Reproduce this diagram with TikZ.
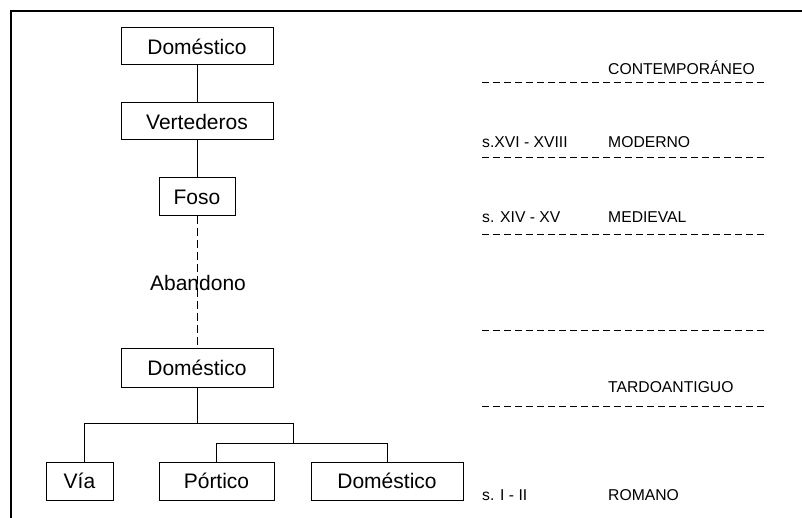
\documentclass[tikz,border=0pt]{standalone}
\usepackage{fontspec}
\setmainfont{Liberation Sans}
\begin{document}
\begin{tikzpicture}[x=1pt,y=-1pt,
  box/.style={draw=black, line width=1pt, inner sep=0pt, font=\fontsize{21}{24}\selectfont},
  lbl/.style={inner sep=0pt, anchor=west, font=\fontsize{15.7}{18}\selectfont},
  conn/.style={line width=1pt},
  sep/.style={line width=1pt, dash pattern=on 7pt off 4pt},
  vdash/.style={line width=1pt, dash pattern=on 8pt off 4pt}]
\useasboundingbox (0,0) rectangle (802,518);
% frame
\draw[line width=1.3pt] (11,518) -- (11,11) -- (802,11);
% boxes
\node[box, minimum width=152pt, minimum height=37pt] (d1) at (197,46.5) {Doméstico};
\node[box, minimum width=152pt, minimum height=37pt] (v) at (197,121.5) {Vertederos};
\node[box, minimum width=76pt, minimum height=38pt] (f) at (197,197) {Foso};
\node[inner sep=0pt, font=\fontsize{21}{24}\selectfont] (ab) at (198,283) {Abandono};
\node[box, minimum width=152pt, minimum height=39pt] (d2) at (197,367.5) {Doméstico};
\node[box, minimum width=67pt, minimum height=38pt] (via) at (79.5,481) {Vía};
\node[box, minimum width=115pt, minimum height=38pt] (por) at (216.5,481) {Pórtico};
\node[box, minimum width=152pt, minimum height=38pt] (d3) at (387,481) {Doméstico};
% connectors
\coordinate (j1) at (197,423);
\coordinate (j2) at (293,443);
\draw[conn] (d1) -- (v);
\draw[conn] (v) -- (f);
\draw[vdash] (f.south) -- (d2.north);
\draw[conn] (d2.south) -- (j1);
\draw[conn] (84,481 |- via.north) -- (84,423) -- (293,423) -- (j2);
\draw[conn] (por.north) -- (por.north |- j2) -- (d3.north |- j2) -- (d3.north);
% separators
\coordinate (s1a) at (482,83);  \coordinate (s1b) at (765,83);
\coordinate (s2a) at (482,158); \coordinate (s2b) at (765,158);
\coordinate (s3a) at (482,235); \coordinate (s3b) at (765,235);
\coordinate (s4a) at (482,330); \coordinate (s4b) at (765,330);
\coordinate (s5a) at (482,406); \coordinate (s5b) at (765,406);
\draw[sep] (s1a) -- (s1b);
\draw[sep] (s2a) -- (s2b);
\draw[sep] (s3a) -- (s3b);
\draw[sep] (s4a) -- (s4b);
\draw[sep] (s5a) -- (s5b);
% labels
\node[lbl] (cont) at (608,68) {CONTEMPORÁNEO};
\node[lbl] (mod) at (608,142) {MODERNO};
\node[lbl] (modd) at (482,142) {s.XVI - XVIII};
\node[lbl] (med) at (608,217) {MEDIEVAL};
\node[lbl] (medd) at (482,217) {s. XIV - XV};
\node[lbl] (tard) at (608,387) {TARDOANTIGUO};
\node[lbl] (rom) at (608,495) {ROMANO};
\node[lbl] (romd) at (482,495) {s. I - II};
\end{tikzpicture}
\end{document}
